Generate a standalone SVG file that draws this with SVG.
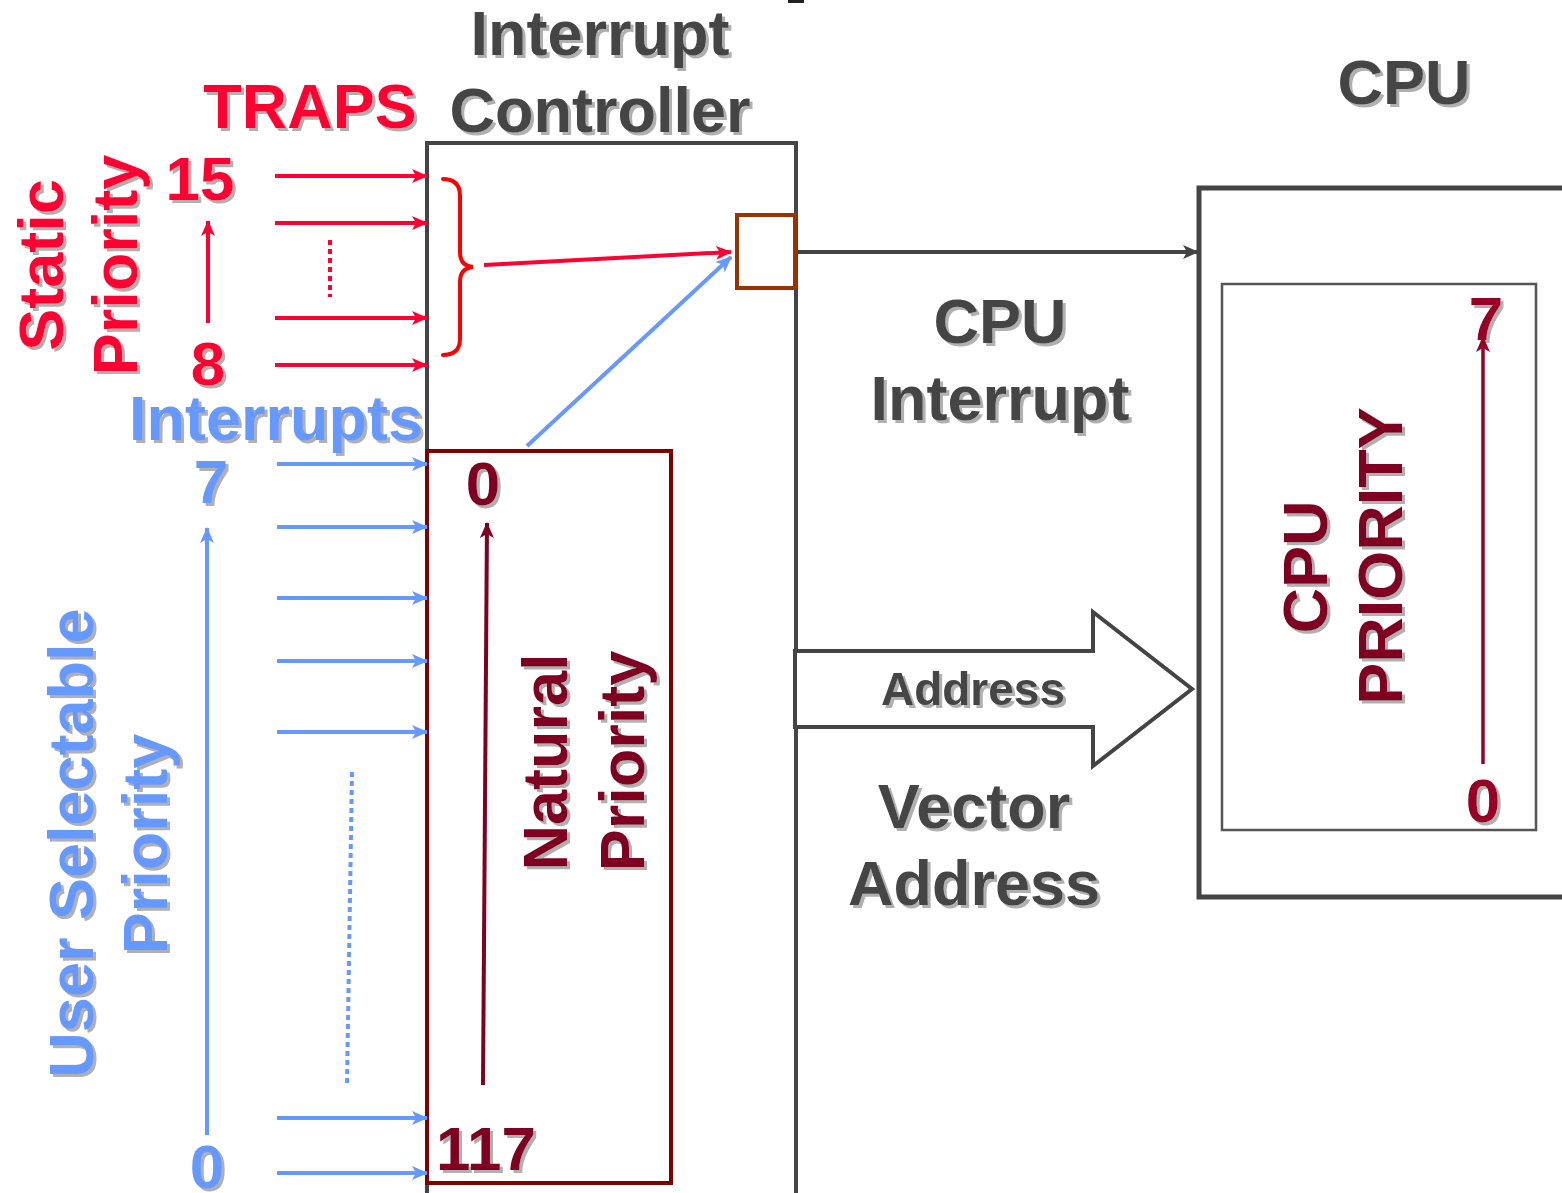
<svg xmlns="http://www.w3.org/2000/svg" width="1562" height="1193" viewBox="0 0 1562 1193">
<defs>
<filter id="sh" x="-10%" y="-10%" width="130%" height="130%">
<feDropShadow dx="3" dy="3" stdDeviation="0.6" flood-color="#b0b0b0" flood-opacity="1"/>
</filter>
<marker id="aRed" markerUnits="userSpaceOnUse" markerWidth="16" markerHeight="14" refX="15" refY="7" orient="auto">
<path d="M0,0 L16,7 L0,14 L4,7 z" fill="#ff0033"/>
</marker>
<marker id="aBlue" markerUnits="userSpaceOnUse" markerWidth="16" markerHeight="14" refX="15" refY="7" orient="auto">
<path d="M0,0 L16,7 L0,14 L4,7 z" fill="#6699ff"/>
</marker>
<marker id="aDark" markerUnits="userSpaceOnUse" markerWidth="16" markerHeight="14" refX="15" refY="7" orient="auto">
<path d="M0,0 L16,7 L0,14 L4,7 z" fill="#444444"/>
</marker>
<marker id="aMaroon" markerUnits="userSpaceOnUse" markerWidth="16" markerHeight="14" refX="15" refY="7" orient="auto">
<path d="M0,0 L16,7 L0,14 L4,7 z" fill="#800020"/>
</marker>
<marker id="aCrimson" markerUnits="userSpaceOnUse" markerWidth="16" markerHeight="14" refX="15" refY="7" orient="auto">
<path d="M0,0 L16,7 L0,14 L4,7 z" fill="#990026"/>
</marker>
</defs>
<style>
text { font-family: "Liberation Sans", Arial, sans-serif; font-weight: bold; }
.big { font-size: 63px; }
.dark { fill: #444444; }
.red { fill: #ff0033; }
.blue { fill: #6699ff; }
.maroon { fill: #800020; }
.crimson { fill: #990026; }
.frame { fill: none; stroke: #444444; stroke-width: 4; }
.rl { stroke: #ff0033; stroke-width: 4; fill: none; }
.bl { stroke: #6699ff; stroke-width: 4; fill: none; }
</style>
<rect width="1562" height="1193" fill="#ffffff"/>
<rect x="788" y="0" width="16" height="3" fill="#222222"/>

<g id="interrupt-controller">
<path class="frame" d="M427,1193 L427,143 L796,143 L796,1193"/>
<g filter="url(#sh)">
<text class="big dark" x="600" y="55" text-anchor="middle">Interrupt</text>
<text class="big dark" x="600" y="132" text-anchor="middle">Controller</text>
</g>
</g>

<g id="traps-label" filter="url(#sh)">
<text class="big red" x="310" y="128" text-anchor="middle">TRAPS</text>
<text class="big red" transform="translate(63,265) rotate(-90)" text-anchor="middle">Static</text>
<text class="big red" transform="translate(137,265) rotate(-90)" text-anchor="middle">Priority</text>
<text class="red" font-size="62" x="200" y="200" text-anchor="middle">15</text>
<text class="red" font-size="62" x="208" y="385" text-anchor="middle">8</text>
</g>

<g id="interrupts-label" filter="url(#sh)">
<text class="big blue" x="276" y="440" text-anchor="middle">Interrupts</text>
<text class="blue" font-size="62" x="211" y="503" text-anchor="middle">7</text>
<text class="blue" font-size="62" x="207" y="1188" text-anchor="middle">0</text>
<text class="big blue" transform="translate(93,843) rotate(-90)" text-anchor="middle">User Selectable</text>
<text class="big blue" transform="translate(167,844) rotate(-90)" text-anchor="middle">Priority</text>
</g>

<g id="natural-priority">
<rect x="427" y="451" width="244" height="732" fill="none" stroke="#800000" stroke-width="4"/>
<g filter="url(#sh)">
<text class="maroon" font-size="62" x="483" y="505" text-anchor="middle">0</text>
<text class="maroon" font-size="62" x="486" y="1170" text-anchor="middle">117</text>
<text class="big maroon" transform="translate(567,762) rotate(-90)" text-anchor="middle">Natural</text>
<text class="big maroon" transform="translate(644,761) rotate(-90)" text-anchor="middle">Priority</text>
</g>
</g>

<g id="flag-box">
<rect x="737" y="215" width="58" height="73" fill="#ffffff" stroke="#993300" stroke-width="4"/>
</g>

<g id="cpu-interrupt-label" filter="url(#sh)">
<text class="big dark" x="1000" y="343" text-anchor="middle">CPU</text>
<text class="big dark" x="1000" y="420" text-anchor="middle">Interrupt</text>
</g>

<g id="vector-address-label" filter="url(#sh)">
<text class="big dark" x="974" y="828" text-anchor="middle">Vector</text>
<text class="big dark" x="974" y="905" text-anchor="middle">Address</text>
</g>

<g id="cpu">
<rect x="1199" y="188" width="400" height="709" fill="none" stroke="#444444" stroke-width="5"/>
<rect x="1222" y="284" width="314" height="546" fill="none" stroke="#555555" stroke-width="2.5"/>
<g filter="url(#sh)">
<text class="big dark" x="1404" y="104" text-anchor="middle">CPU</text>
<text class="crimson" font-size="62" x="1486" y="340" text-anchor="middle">7</text>
<text class="crimson" font-size="62" x="1483" y="822" text-anchor="middle">0</text>
<text class="big maroon" transform="translate(1327,567) rotate(-90)" text-anchor="middle">CPU</text>
<text class="big maroon" transform="translate(1402,556) rotate(-90)" text-anchor="middle">PRIORITY</text>
</g>
</g>

<g id="address-arrow">
<path d="M795,651 L1093,651 L1093,612 L1192,689 L1093,766 L1093,727 L795,727 Z" fill="#ffffff" stroke="#444444" stroke-width="4" stroke-linejoin="miter"/>
<g filter="url(#sh)">
<text class="dark" font-size="46" x="973" y="705" text-anchor="middle">Address</text>
</g>
</g>

<g id="connectors">
<line class="rl" x1="275" y1="176" x2="427" y2="176" marker-end="url(#aRed)"/>
<line class="rl" x1="275" y1="223" x2="427" y2="223" marker-end="url(#aRed)"/>
<line class="rl" x1="275" y1="318" x2="427" y2="318" marker-end="url(#aRed)"/>
<line class="rl" x1="275" y1="365" x2="427" y2="365" marker-end="url(#aRed)"/>
<line class="rl" x1="208" y1="323" x2="208" y2="221" stroke-width="3" marker-end="url(#aRed)"/>
<line class="rl" x1="330" y1="240" x2="330" y2="297" stroke-dasharray="5,4"/>
<path d="M443,179 Q460,179 460,196 L460,252 Q460,266 473,267 Q460,268 460,282 L460,339 Q460,355 443,355" fill="none" stroke="#ff0000" stroke-width="4" stroke-linecap="round"/>
<line class="rl" x1="484" y1="265" x2="731" y2="252" marker-end="url(#aRed)"/>
<line class="bl" x1="527" y1="446" x2="731" y2="257" marker-end="url(#aBlue)"/>
<line class="bl" x1="277" y1="464" x2="427" y2="464" marker-end="url(#aBlue)"/>
<line class="bl" x1="277" y1="527" x2="427" y2="527" marker-end="url(#aBlue)"/>
<line class="bl" x1="277" y1="598" x2="427" y2="598" marker-end="url(#aBlue)"/>
<line class="bl" x1="277" y1="661" x2="427" y2="661" marker-end="url(#aBlue)"/>
<line class="bl" x1="277" y1="732" x2="427" y2="732" marker-end="url(#aBlue)"/>
<line class="bl" x1="277" y1="1118" x2="427" y2="1118" marker-end="url(#aBlue)"/>
<line class="bl" x1="277" y1="1173" x2="427" y2="1173" marker-end="url(#aBlue)"/>
<line class="bl" x1="207" y1="1135" x2="207" y2="528" stroke-width="3.5" marker-end="url(#aBlue)"/>
<line class="bl" x1="352" y1="772" x2="347" y2="1084" stroke-dasharray="5,4"/>
<line x1="483" y1="1085" x2="487" y2="523" stroke="#800020" stroke-width="4" marker-end="url(#aMaroon)"/>
<line x1="1483" y1="764" x2="1483" y2="337" stroke="#990026" stroke-width="3.5" marker-end="url(#aCrimson)"/>
<line x1="797" y1="252" x2="1198" y2="252" stroke="#444444" stroke-width="4" marker-end="url(#aDark)"/>
</g>
</svg>
